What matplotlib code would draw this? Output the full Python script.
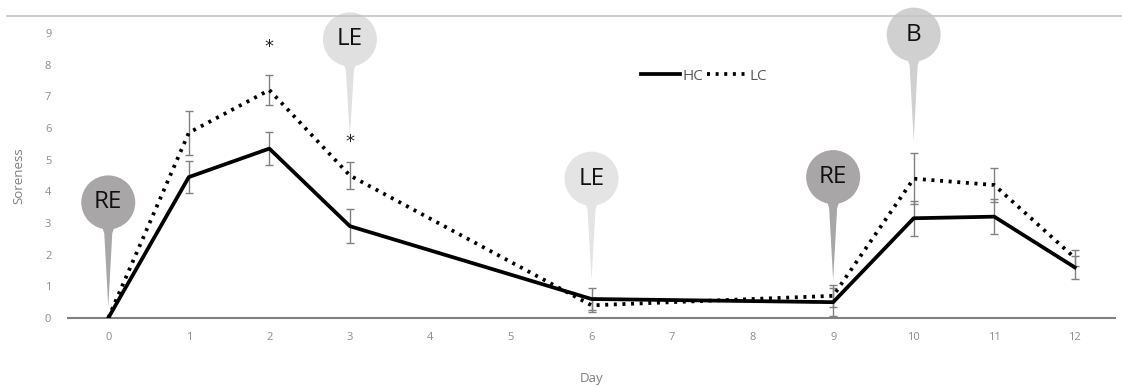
import matplotlib.pyplot as plt
from matplotlib.patches import Ellipse, Polygon
from matplotlib.lines import Line2D

plt.rcParams['font.family'] = ['Open Sans', 'DejaVu Sans']

# data
days = [0, 1, 2, 3, 6, 9, 10, 11, 12]
hc = [0, 4.45, 5.35, 2.9, 0.6, 0.5, 3.15, 3.2, 1.6]
hc_err = [0, 0.5, 0.53, 0.53, 0.35, 0.45, 0.55, 0.55, 0.37]
lc = [0, 5.85, 7.2, 4.5, 0.4, 0.7, 4.4, 4.2, 1.9]
lc_err = [0, 0.7, 0.48, 0.43, 0.2, 0.35, 0.8, 0.55, 0.25]
day_ticks = list(range(13))

star_days = [2, 3]
star_y = [8.55, 5.55]

# map pins: day, tip height, circle centre height, label, colour
pin_days = [0, 3, 6, 9, 10]
pin_tip = [0.35, 5.7, 1.2, 1.2, 5.6]
pin_center = [3.65, 8.8, 4.4, 4.45, 8.95]
pin_labels = ['RE', 'LE', 'LE', 'RE', 'B']
pin_colors = ['#a8a6a6', '#e0e0e0', '#e4e4e4', '#a8a6a6', '#d0d0d0']

fig = plt.figure(figsize=(11.22, 3.87), dpi=100)
ax = fig.add_axes([0.0606, 0.1783, 0.9332, 0.7364])

fig.add_artist(Line2D([0.006, 1.0], [0.9587, 0.9587], color='#c4c4c4', lw=1.2))

line_style = dict(color='black', lw=2.7)
err_style = dict(fmt='none', ecolor='#808080', elinewidth=1, capsize=3, capthick=1, zorder=2)

ax.errorbar(days, hc, yerr=hc_err, **err_style)
ax.errorbar(days, lc, yerr=lc_err, **err_style)
ax.plot(days, hc, ls='-', label='HC', zorder=3, **line_style)
ax.plot(days, lc, ls=(0, (0.8, 1.5)), label='LC', zorder=3, **line_style)

for d, y in zip(star_days, star_y):
    ax.text(d, y, '*', ha='center', va='center', fontsize=13, color='#222222',
            family='DejaVu Sans', zorder=6)

ax.set_xlim(-0.5, 12.5)
ax.set_ylim(0, 9)

# pixel size of one data unit, so the circles stay round
ux = 1047 / 13.0
uy = 285 / 9.0
r = 27
for d, tip, cy, lab, col in zip(pin_days, pin_tip, pin_center, pin_labels, pin_colors):
    w = 2 * r / ux
    h = 2 * r / uy
    ax.add_patch(Ellipse((d, cy), w, h, facecolor=col, edgecolor='none',
                         clip_on=False, zorder=5))
    top = cy - 0.7 * r / uy
    neck = cy - 1.15 * r / uy
    ax.add_patch(Polygon([(d - 8 / ux, top), (d + 8 / ux, top),
                          (d + 4 / ux, neck), (d, tip), (d - 4 / ux, neck)],
                         closed=True, facecolor=col, edgecolor='none',
                         clip_on=False, zorder=5))
    ax.text(d, cy, lab, ha='center', va='center', fontsize=17.5, color='#111111',
            zorder=7, clip_on=False)

for s in ['top', 'right', 'left']:
    ax.spines[s].set_visible(False)
ax.spines['bottom'].set_color('#808080')
ax.spines['bottom'].set_linewidth(1.5)

ax.set_xticks(day_ticks)
ax.set_yticks(range(10))
ax.tick_params(axis='both', length=0, labelsize=8, labelcolor='#8c8c8c')
ax.tick_params(axis='y', pad=12)
ax.tick_params(axis='x', pad=10)

ax.set_xlabel('Day', fontsize=9.5, color='#7f7f7f', labelpad=21)
ax.set_ylabel('Soreness', fontsize=9.5, color='#7f7f7f', labelpad=14)

ax.legend(loc='center', bbox_to_anchor=(0.607, 0.849), ncol=2, frameon=False,
          handlelength=2.6, handletextpad=0.12, columnspacing=0.3,
          fontsize=11, labelcolor='#595959')

fig.savefig('out.png', dpi=100)
